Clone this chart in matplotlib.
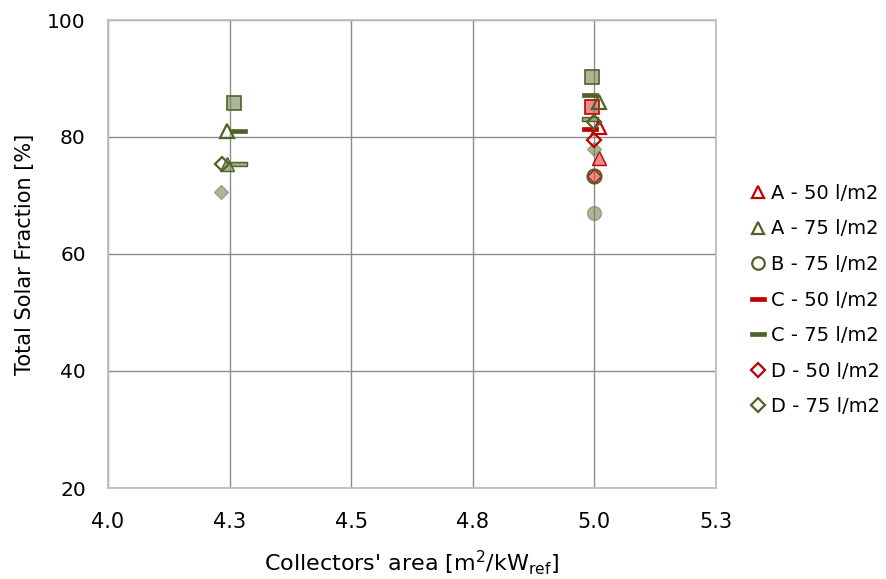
import matplotlib
matplotlib.use("Agg")
import matplotlib.pyplot as plt
from matplotlib.path import Path
from matplotlib.lines import Line2D

# ---- data ----
# open-marker series (in legend)
a50_x, a50_y = [5.01], [81.7]
a75_x, a75_y = [4.245, 5.01], [81.0, 86.0]
b75_x, b75_y = [5.0], [73.3]
c50_x, c50_y = [4.99], [81.4]
c75_x, c75_y = [4.27, 4.99], [81.0, 87.2]
d50_x, d50_y = [5.0], [79.5]
d75_x, d75_y = [4.235, 5.0], [75.4, 82.6]

# filled-marker series (not in legend)
fa50_x, fa50_y = [5.01], [76.4]
fa75_x, fa75_y = [4.245], [75.4]
fb75_x, fb75_y = [5.0], [67.0]
fc75_x, fc75_y = [4.27, 4.99], [75.4, 83.1]
fd50_x, fd50_y = [5.0], [73.3]
fd75_x, fd75_y = [4.233, 5.0], [70.6, 78.0]
sq75_x, sq75_y = [4.26, 4.995], [85.8, 90.3]
sq50_x, sq50_y = [4.995], [85.1]

legend_labels = ["A - 50 l/m2", "A - 75 l/m2", "B - 75 l/m2", "C - 50 l/m2",
                 "C - 75 l/m2", "D - 50 l/m2", "D - 75 l/m2"]
xticks = [4.0, 4.25, 4.5, 4.75, 5.0, 5.25]
xtick_labels = ["4.0", "4.3", "4.5", "4.8", "5.0", "5.3"]
yticks = [20, 40, 60, 80, 100]

RED = "#C00000"
GREEN = "#4F6228"
RED_FILL = (0.85, 0.25, 0.25, 0.6)
GREEN_FILL = (0.45, 0.52, 0.32, 0.6)

dash = Path([(-1, -0.22), (1, -0.22), (1, 0.22), (-1, 0.22), (-1, -0.22)],
            [Path.MOVETO, Path.LINETO, Path.LINETO, Path.LINETO, Path.CLOSEPOLY])

plt.rcParams['font.family'] = ['DejaVu Sans']
plt.rcParams['mathtext.default'] = 'regular'

fig = plt.figure(figsize=(8.87, 5.79), dpi=100)
ax = fig.add_axes([108/887, 1-488/579, (716-108)/887, (488-20)/579])

def pts(x, y, marker, ms, face, edge, mew=1.5, z=3):
    ax.plot(x, y, linestyle='none', marker=marker, markersize=ms,
            markerfacecolor=face, markeredgecolor=edge, markeredgewidth=mew, zorder=z)

# filled series
pts(sq75_x, sq75_y, 's', 9.5, GREEN_FILL, GREEN, 1.2)
pts(sq50_x, sq50_y, 's', 9.5, RED_FILL, RED, 1.2)
pts(fa75_x, fa75_y, '^', 10, GREEN_FILL, GREEN, 1.0)
pts(fa50_x, fa50_y, '^', 10, RED_FILL, RED, 1.0)
pts(fb75_x, fb75_y, 'o', 10, GREEN_FILL, GREEN_FILL, 1.0)
pts(fc75_x, fc75_y, dash, 12, (0.62, 0.67, 0.52), GREEN, 1.0)
pts(fd50_x, fd50_y, 'D', 7.5, RED_FILL, RED, 1.0)
pts(fd75_x, fd75_y, 'D', 7.5, GREEN_FILL, GREEN_FILL, 1.0)

# open series
pts(a50_x, a50_y, '^', 10.5, 'none', RED, 1.6, 4)
pts(a75_x, a75_y, '^', 10.5, 'none', GREEN, 1.6, 4)
pts(b75_x, b75_y, 'o', 10, 'none', GREEN, 1.6, 4)
pts(c50_x, c50_y, dash, 12, RED, RED, 0.5, 4)
pts(c75_x, c75_y, dash, 12, GREEN, GREEN, 0.5, 4)
pts(d50_x, d50_y, 'D', 7.5, 'none', RED, 1.6, 4)
pts(d75_x, d75_y, 'D', 7.5, 'none', GREEN, 1.6, 4)

ax.set_xlim(4.0, 5.25)
ax.set_ylim(20, 100)
ax.set_xticks(xticks)
ax.set_xticklabels(xtick_labels)
ax.set_yticks(yticks)
ax.grid(True, color="#8C8C8C", linewidth=1.0)
ax.set_axisbelow(True)
for s in ax.spines.values():
    s.set_color("#BFBFBF")
    s.set_linewidth(1.3)
ax.tick_params(axis='both', length=0)
ax.tick_params(axis='y', labelsize=14.5, pad=16)
ax.tick_params(axis='x', labelsize=15, pad=17)

ax.set_ylabel("Total Solar Fraction [%]", fontsize=15, labelpad=9)
ax.set_xlabel(r"Collectors' area [m$^2$/kW$_{ref}$]", fontsize=16, labelpad=12)

handles = [
    Line2D([], [], linestyle='none', marker='^', markersize=9, markerfacecolor='none', markeredgecolor=RED, markeredgewidth=1.6),
    Line2D([], [], linestyle='none', marker='^', markersize=9, markerfacecolor='none', markeredgecolor=GREEN, markeredgewidth=1.6),
    Line2D([], [], linestyle='none', marker='o', markersize=9, markerfacecolor='none', markeredgecolor=GREEN, markeredgewidth=1.6),
    Line2D([], [], linestyle='none', marker=dash, markersize=11, markerfacecolor=RED, markeredgecolor=RED, markeredgewidth=0.5),
    Line2D([], [], linestyle='none', marker=dash, markersize=11, markerfacecolor=GREEN, markeredgecolor=GREEN, markeredgewidth=0.5),
    Line2D([], [], linestyle='none', marker='D', markersize=7, markerfacecolor='none', markeredgecolor=RED, markeredgewidth=1.6),
    Line2D([], [], linestyle='none', marker='D', markersize=7, markerfacecolor='none', markeredgecolor=GREEN, markeredgewidth=1.6),
]
fig.legend(handles, legend_labels, loc='center left', bbox_to_anchor=(750/887, 1-300/579),
           frameon=False, fontsize=14, handlelength=0.8, handletextpad=0.3,
           labelspacing=0.85, borderpad=0, borderaxespad=0)

fig.savefig("out.png", dpi=100)
